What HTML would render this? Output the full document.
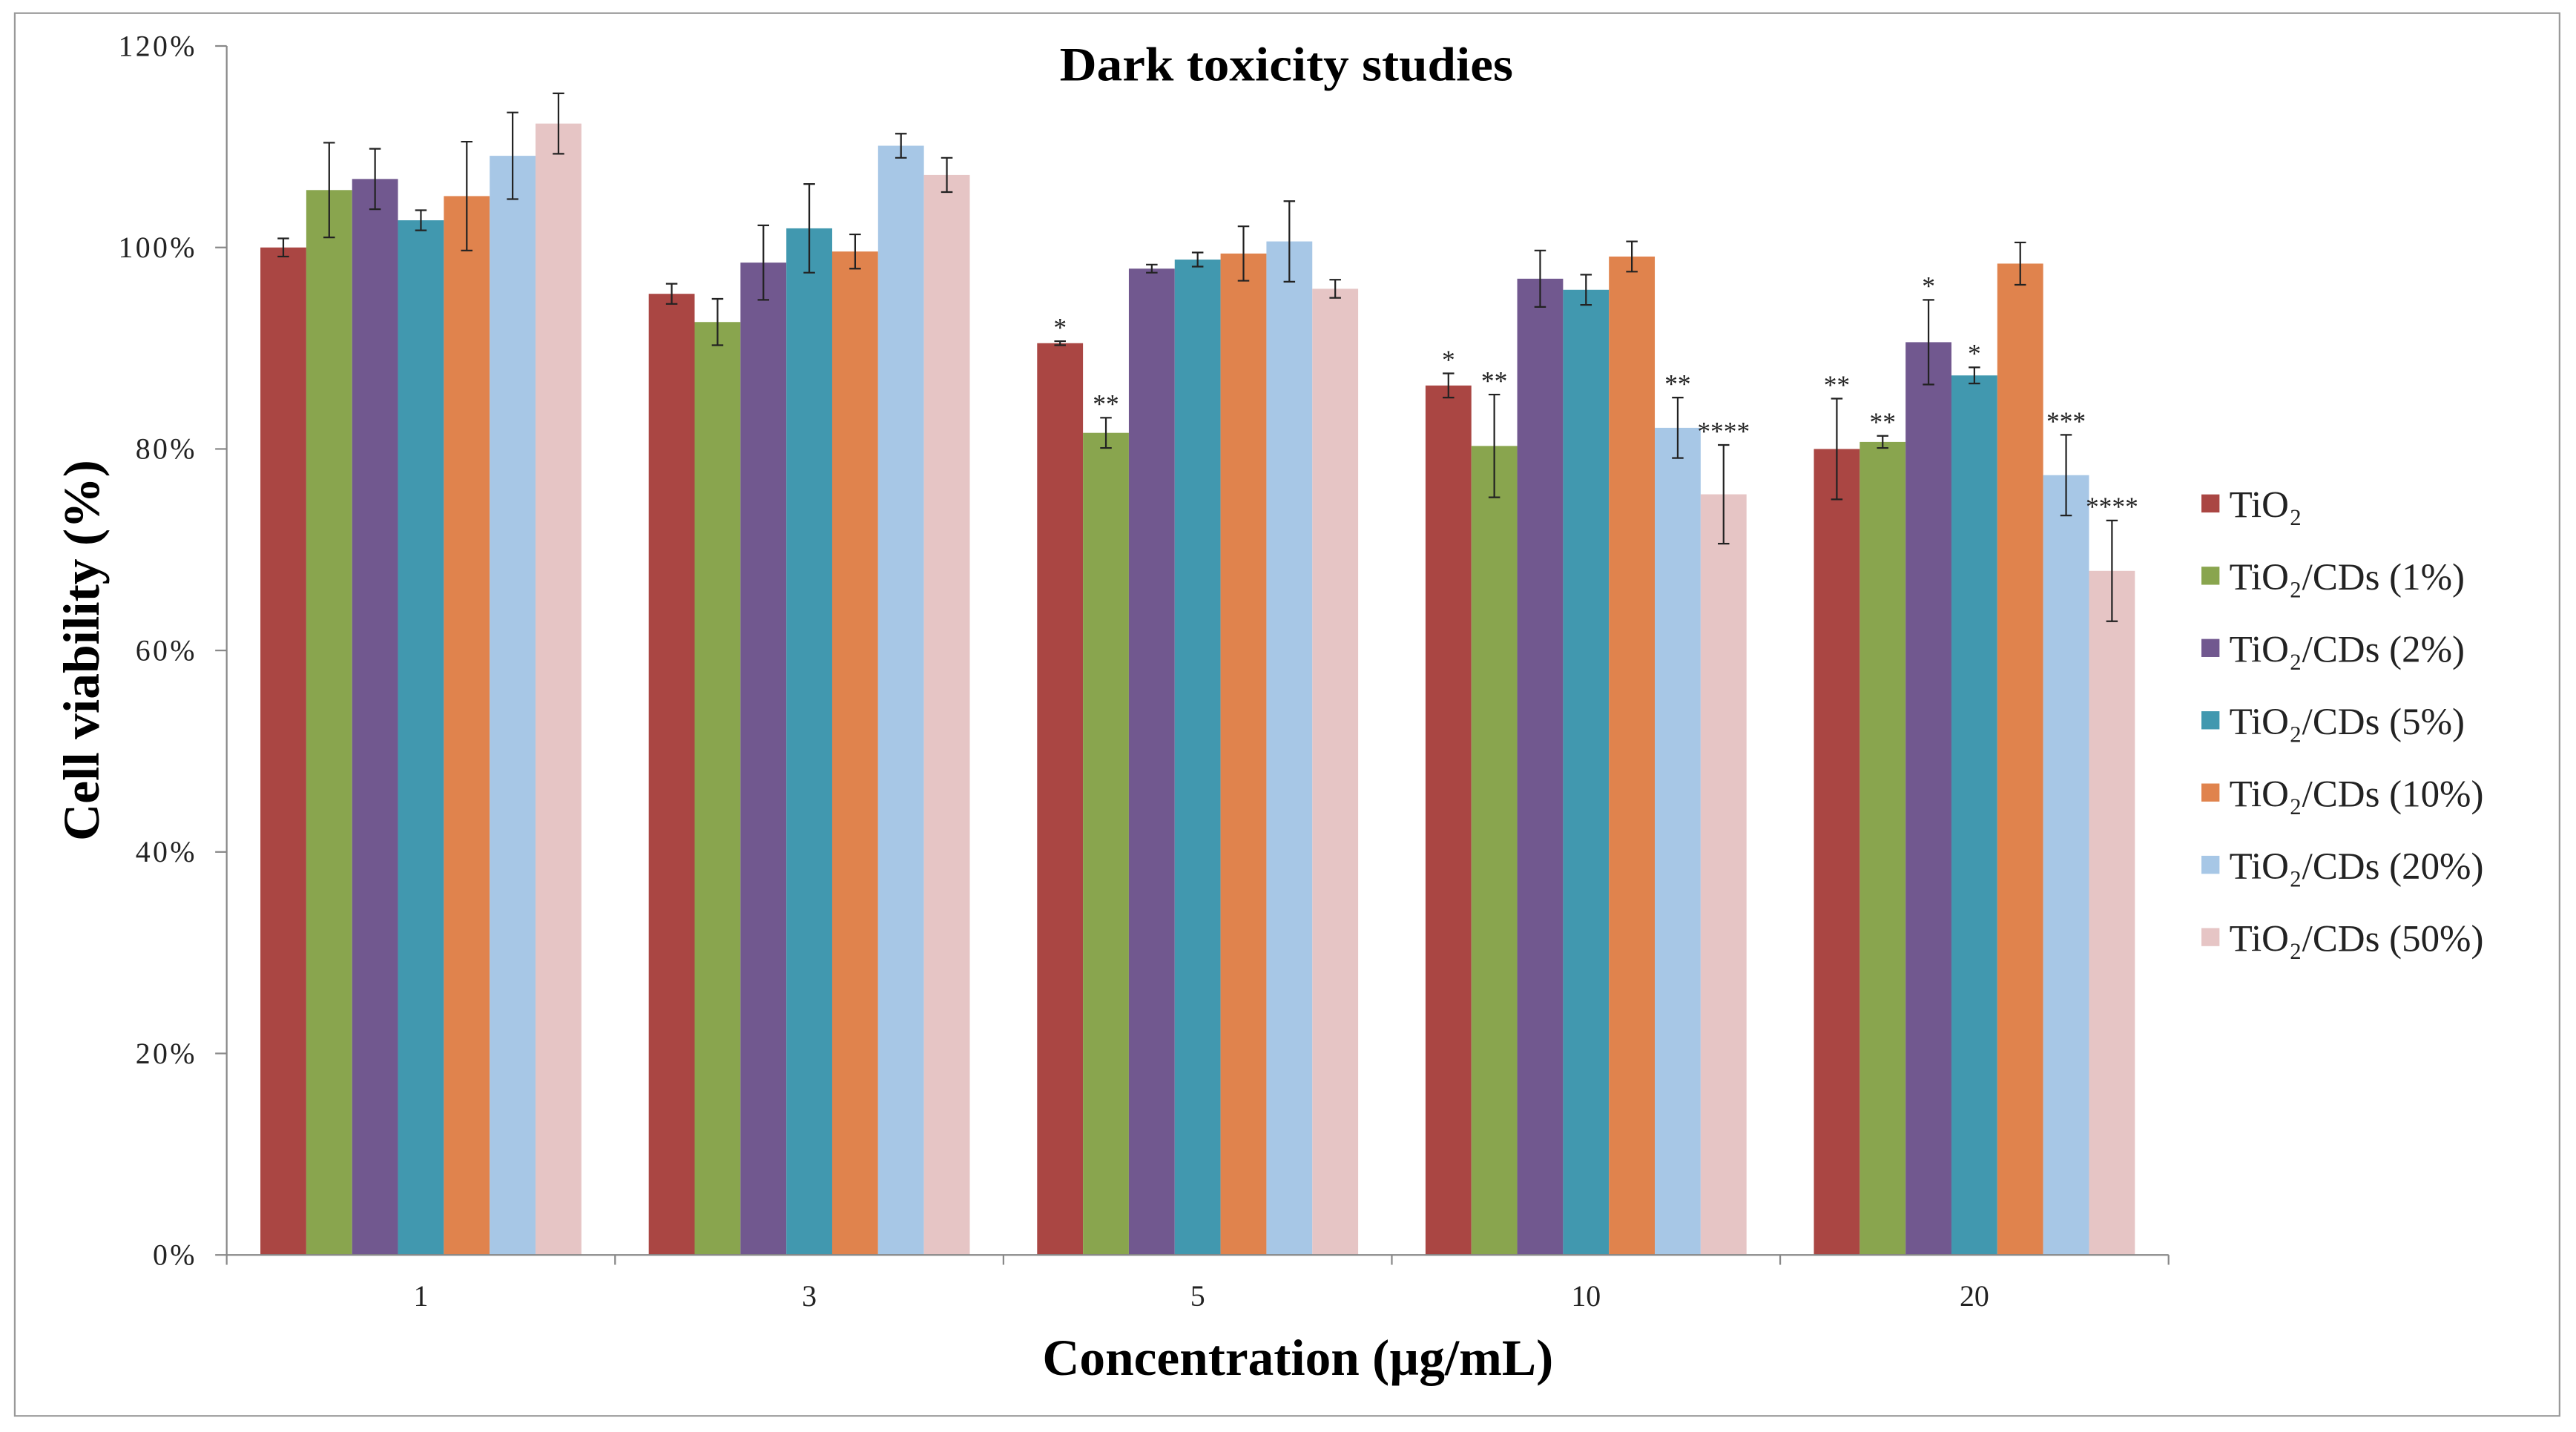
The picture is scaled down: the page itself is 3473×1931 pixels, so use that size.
<!DOCTYPE html>
<html><head><meta charset="utf-8"><style>
html,body{margin:0;padding:0;background:#fff;}
svg{display:block;}
text{font-family:"Liberation Serif",serif;}
</style></head><body>
<svg id="chart" width="3473" height="1931" viewBox="0 0 1568 871.8" preserveAspectRatio="none" xmlns="http://www.w3.org/2000/svg">
<rect x="9" y="8" width="1549" height="854" fill="#fff" stroke="#999" stroke-width="1"/>
<text x="783" y="49" font-size="29" font-weight="bold" text-anchor="middle" textLength="276" lengthAdjust="spacingAndGlyphs">Dark toxicity studies</text>
<text transform="translate(60,396) rotate(-90)" font-size="31" font-weight="bold" text-anchor="middle" textLength="232" lengthAdjust="spacingAndGlyphs">Cell viability (%)</text>
<text x="790" y="837" font-size="31" font-weight="bold" text-anchor="middle" textLength="311" lengthAdjust="spacingAndGlyphs">Concentration (µg/mL)</text>
<g id="plot"></g>
<g id="legend"></g>
</svg>
<script>
const categories = ["1","3","5","10","20"];
const seriesNames = ["TiO₂","TiO₂/CDs (1%)","TiO₂/CDs (2%)","TiO₂/CDs (5%)","TiO₂/CDs (10%)","TiO₂/CDs (20%)","TiO₂/CDs (50%)"];
const seriesColors = ["#AA4643","#89A54E","#71588F","#4198AF","#E0834D","#A7C7E6","#E6C5C5"];
const tiO2 = [100,95.4,90.5,86.3,80];
const cd1 = [105.7,92.6,81.6,80.3,80.7];
const cd2 = [106.8,98.5,97.9,96.9,90.6];
const cd5 = [102.7,101.9,98.8,95.8,87.3];
const cd10 = [105.1,99.6,99.4,99.1,98.4];
const cd20 = [109.1,110.1,100.6,82.1,77.4];
const cd50 = [112.3,107.2,95.9,75.5,67.9];
const err_tiO2 = [0.9,1,0.2,1.2,5];
const err_cd1 = [4.7,2.3,1.5,5.1,0.6];
const err_cd2 = [3,3.7,0.4,2.8,4.2];
const err_cd5 = [1,4.4,0.7,1.5,0.8];
const err_cd10 = [5.4,1.7,2.7,1.5,2.1];
const err_cd20 = [4.3,1.2,4,3,4];
const err_cd50 = [3,1.7,0.9,4.9,5];
const stars_tiO2 = ["","","*","*","**"];
const stars_cd1 = ["","","**","**","**"];
const stars_cd2 = ["","","","","*"];
const stars_cd5 = ["","","","","*"];
const stars_cd10 = ["","","","",""];
const stars_cd20 = ["","","","**","***"];
const stars_cd50 = ["","","","****","****"];
const yTicks = [0,20,40,60,80,100,120];

const series = [tiO2,cd1,cd2,cd5,cd10,cd20,cd50];
const errs = [err_tiO2,err_cd1,err_cd2,err_cd5,err_cd10,err_cd20,err_cd50];
const stars = [stars_tiO2,stars_cd1,stars_cd2,stars_cd5,stars_cd10,stars_cd20,stars_cd50];

const NS="http://www.w3.org/2000/svg";
const X0=138,X1=1320,Y0=764,Y1=28,YMAX=120;
const gw=(X1-X0)/categories.length, pad=20.5, bw=(gw-2*pad)/series.length;
const y=v=>Y0-(v/YMAX)*(Y0-Y1);
const xBar=(g,s)=>X0+g*gw+pad+s*bw;
const plot=document.getElementById('plot');
function mk(tag,attrs,parent){const e=document.createElementNS(NS,tag);for(const k in attrs)e.setAttribute(k,attrs[k]);(parent||plot).appendChild(e);return e;}

yTicks.forEach(t=>{
  const tk=mk('line',{x1:X0-7,x2:X0,y1:y(t),y2:y(t),stroke:'#888','stroke-width':1});
  
  
  const lb=mk('text',{x:X0-18,y:y(t)+6,'font-size':18,'letter-spacing':'1.5','text-anchor':'end',fill:'#222'});
  lb.textContent=t+'%';
  
  
});
for(let g=0;g<=categories.length;g++){
  const tk=mk('line',{x1:X0+g*gw,x2:X0+g*gw,y1:Y0,y2:Y0+6,stroke:'#888','stroke-width':1});
  
  
}
categories.forEach((c,g)=>{
  const lb=mk('text',{x:X0+g*gw+gw/2,y:Y0+31,'font-size':18,'text-anchor':'middle',fill:'#222'});
  lb.textContent=c;
  
  
});
series.forEach((vals,s)=>{
  vals.forEach((v,g)=>{
    const x=xBar(g,s);
    const r=mk('rect',{x:x,y:y(v),width:bw,height:Y0-y(v),fill:seriesColors[s]});
    
    
    const cx=x+bw/2,e=errs[s][g],t=y(v+e),b=y(v-e);
    const eb=mk('path',{d:`M${cx},${t}V${b}M${cx-3.5},${t}H${cx+3.5}M${cx-3.5},${b}H${cx+3.5}`,stroke:'#222','stroke-width':1,fill:'none'});
    
    
    if(stars[s][g]){
      const st=mk('text',{x:cx,y:t-3,'font-size':16,'text-anchor':'middle',fill:'#222'});
      st.textContent=stars[s][g];
      
      
    }
  });
});
mk('line',{x1:X0,x2:X0,y1:Y1,y2:Y0,stroke:'#888','stroke-width':1});
mk('line',{x1:X0,x2:X1,y1:Y0,y2:Y0,stroke:'#888','stroke-width':1});

const legend=document.getElementById('legend');
seriesNames.forEach((n,i)=>{
  const yy=307+i*44;
  const sw=mk('rect',{x:1340,y:yy-6,width:11,height:11,fill:seriesColors[i]},legend);
  
  
  const tx=mk('text',{x:1357,y:yy+8,'font-size':23,fill:'#222'},legend);
  tx.textContent=n;
  
  
});
</script>
</body></html>
